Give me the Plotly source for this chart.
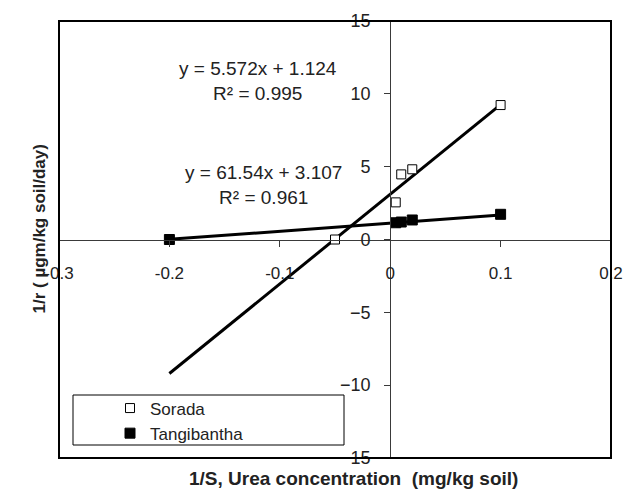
import plotly.graph_objects as go
import numpy as np

# Data
sorada_x = [-0.05, 0.005, 0.01, 0.02, 0.1]
sorada_y = [0.0, 2.55, 4.47, 4.82, 9.23]
tangi_x = [-0.2, 0.005, 0.01, 0.02, 0.1]
tangi_y = [0.0, 1.15, 1.2, 1.34, 1.73]

# Trendline coefficients (from the equations shown)
sorada_slope, sorada_int = 61.54, 3.107
tangi_slope, tangi_int = 5.572, 1.124
trend_x = [-0.2, 0.1]

eq_tangi = ["y = 5.572x + 1.124", "R² = 0.995"]
eq_sorada = ["y = 61.54x + 3.107", "R² = 0.961"]

x_ticks = [-0.3, -0.2, -0.1, 0, 0.1, 0.2]
x_ticktext = ["-0.3", "-0.2", "-0.1", "0", "0.1", "0.2"]
y_ticks = [-15, -10, -5, 0, 5, 10, 15]

FONT = "Liberation Sans, Arial, sans-serif"
TXT = "#222222"

L, R, T, B = 59, 13, 21, 41
W, H = 624, 499
PW, PH = W - L - R, H - T - B


def px(xp):
    return (xp - L) / PW


def py(yp):
    return (H - B - yp) / PH


fig = go.Figure()

tx = np.array(trend_x)
fig.add_trace(go.Scatter(x=tx, y=sorada_slope * tx + sorada_int, mode="lines",
                         line=dict(color="black", width=3), showlegend=False, hoverinfo="skip"))
fig.add_trace(go.Scatter(x=tx, y=tangi_slope * tx + tangi_int, mode="lines",
                         line=dict(color="black", width=3), showlegend=False, hoverinfo="skip"))

fig.add_trace(go.Scatter(x=sorada_x, y=sorada_y, mode="markers", name="Sorada",
                         marker=dict(symbol="square", size=9, color="white",
                                     line=dict(color="black", width=1))))
fig.add_trace(go.Scatter(x=tangi_x, y=tangi_y, mode="markers", name="Tangibantha",
                         marker=dict(symbol="square", size=10, color="black",
                                     line=dict(color="black", width=1))))

axis_col = "#3a3a3a"
fig.update_layout(
    width=W, height=H,
    margin=dict(l=L, r=R, t=T, b=B, autoexpand=False),
    paper_bgcolor="white", plot_bgcolor="white",
    font=dict(family=FONT, size=17, color=TXT),
    xaxis=dict(range=[-0.3, 0.2], domain=[0, 1], anchor="free", position=0.5,
               tickvals=x_ticks, ticktext=x_ticktext, ticks="outside", ticklen=6,
               tickcolor=axis_col, showline=True, linecolor=axis_col, linewidth=1,
               showgrid=False, zeroline=False, ticklabelstandoff=12,
               ticklabeloverflow="allow", automargin=False,
               tickfont=dict(family=FONT, size=17, color=TXT)),
    yaxis=dict(range=[-15, 15], domain=[0, 1], anchor="free", position=0.6,
               tickvals=y_ticks, ticks="outside", ticklen=6,
               tickcolor=axis_col, showline=True, linecolor=axis_col, linewidth=1,
               showgrid=False, zeroline=False, ticklabelstandoff=10,
               ticklabeloverflow="allow", automargin=False,
               tickfont=dict(family=FONT, size=18, color=TXT)),
    legend=dict(x=px(110), y=py(421), xanchor="left", yanchor="middle",
                bgcolor="rgba(0,0,0,0)", borderwidth=0,
                font=dict(family=FONT, size=17, color=TXT),
                tracegroupgap=2, itemwidth=30),
    showlegend=True,
)

# plot-area frame and legend box
fig.add_shape(type="rect", xref="paper", yref="paper", x0=0, x1=1, y0=0, y1=1,
              line=dict(color="black", width=2), layer="above")
fig.add_shape(type="rect", xref="paper", yref="paper",
              x0=px(73), x1=px(344), y0=py(445), y1=py(395),
              line=dict(color="black", width=1), fillcolor="white", layer="below")

# equation annotations
for lines, cx, cy in [(eq_tangi, px(258), py(56)),
                      (eq_sorada, px(263), py(160))]:
    fig.add_annotation(x=cx, y=cy, xref="paper", yref="paper", showarrow=False,
                       text="<br>".join(lines), align="center",
                       font=dict(family=FONT, size=19, color=TXT))

# axis titles
fig.add_annotation(x=px(353), y=py(491), xref="paper", yref="paper",
                   showarrow=False, text="<b>1/S, Urea concentration  (mg/kg soil)</b>",
                   font=dict(family=FONT, size=19, color=TXT))
fig.add_annotation(x=px(27), y=py(229), xref="paper", yref="paper",
                   showarrow=False, textangle=-90, text="<b>1/r ( µgm/kg soil/day)</b>",
                   font=dict(family=FONT, size=17, color=TXT))

fig.write_html("out.html")
